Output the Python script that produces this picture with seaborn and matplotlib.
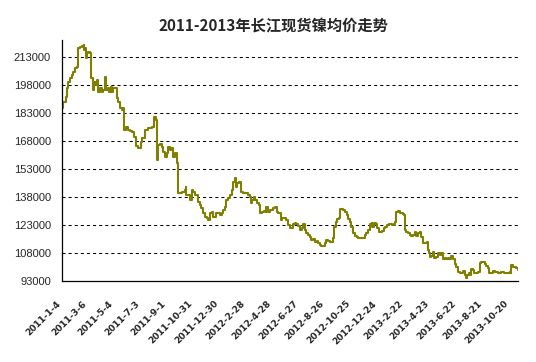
import matplotlib
matplotlib.use("Agg")
import matplotlib.pyplot as plt
import seaborn as sns
import pandas as pd

title = "2011-2013年长江现货镍均价走势"
start_date = "2011-01-04"

# day offsets from 2011-01-04 and Changjiang spot nickel average price (yuan/ton)
days = [0, 2, 7, 8, 11, 14, 18, 22, 26, 30, 33, 36, 37, 41, 45, 49, 51, 52, 55, 57,
        60, 64, 65, 67, 71, 73, 77, 80, 83, 86, 90, 94, 98, 100, 104, 108, 111, 114, 117, 122,
        124, 128, 132, 136, 139, 141, 145, 149, 155, 160, 164, 168, 172, 177, 180, 183, 189, 195, 200, 205,
        210, 213, 215, 217, 219, 223, 227, 230, 234, 238, 242, 245, 249, 253, 257, 261, 264, 268, 272, 276,
        279, 282, 283, 287, 291, 295, 298, 302, 306, 310, 314, 317, 321, 325, 329, 332, 336, 340, 344, 348,
        351, 355, 359, 363, 366, 370, 374, 378, 382, 386, 389, 393, 395, 398, 402, 406, 408, 412, 420, 423,
        427, 429, 432, 436, 440, 444, 448, 450, 451, 455, 459, 463, 465, 469, 473, 476, 480, 484, 488, 491,
        495, 498, 501, 505, 509, 512, 515, 518, 522, 526, 529, 533, 537, 541, 545, 548, 552, 556, 560, 563,
        567, 571, 575, 579, 582, 586, 590, 594, 598, 601, 605, 609, 613, 616, 619, 622, 626, 630, 632, 635,
        639, 643, 647, 650, 654, 658, 662, 666, 670, 673, 681, 684, 688, 692, 696, 700, 704, 706, 709, 713,
        716, 720, 724, 728, 732, 735, 739, 743, 747, 750, 754, 758, 760, 764, 768, 772, 775, 778, 779, 783,
        787, 791, 794, 798, 802, 806, 809, 813, 817, 821, 825, 829, 832, 834, 836, 840, 843, 847, 851, 855,
        859, 863, 866, 870, 874, 878, 881, 885, 889, 893, 897, 900, 904, 908, 912, 916, 918, 921, 925, 927,
        931, 934, 938, 946, 950, 953, 957, 961, 965, 968, 972, 976, 980, 984, 991, 999, 1006, 1014, 1018, 1020,
        1022, 1025, 1029, 1033, 1037]

prices = [185500, 189000, 189000, 191700, 196200, 199800, 201600, 203400, 205100, 206900, 207800, 209900, 217600, 218500, 218900, 219400, 216700, 217600, 212300, 214900,
          215800, 214900, 203400, 201600, 195300, 199800, 198000, 200700, 194400, 196200, 194400, 195300, 202100, 195300, 196200, 194400, 197100, 194400, 196200, 196200,
          190900, 189000, 185500, 184600, 185500, 173900, 175600, 173900, 173500, 173000, 170300, 165300, 164100, 164100, 167600, 169500, 173900, 175100, 175100, 175600,
          180700, 179300, 175600, 157800, 165900, 166200, 165000, 162300, 159600, 161400, 165000, 163000, 164100, 159600, 161400, 156100, 140000, 140000, 140800, 140800,
          141800, 143500, 139100, 139100, 136400, 141800, 140800, 139100, 139100, 135500, 133700, 131900, 129300, 127100, 126600, 125700, 129300, 130100, 127400, 127400,
          129300, 129300, 128400, 129300, 131000, 132800, 136400, 137300, 139100, 141800, 146200, 148000, 143500, 145300, 146200, 144400, 140800, 140300, 140300, 139100,
          138200, 134600, 136400, 137800, 136400, 134600, 133700, 131900, 129300, 130100, 130700, 130100, 132800, 130100, 131000, 131000, 131900, 132800, 130100, 129600,
          129300, 125700, 126600, 126600, 125700, 125700, 123000, 121200, 121200, 123500, 123900, 123500, 122500, 120300, 121200, 123500, 120300, 118600, 117600, 116700,
          115000, 115400, 114100, 114600, 113200, 112300, 111900, 111800, 113200, 115000, 114600, 114100, 114100, 115900, 122100, 124800, 126200, 126600, 131400, 131800,
          131000, 130100, 128400, 126100, 124800, 122100, 118600, 117100, 116400, 115900, 115900, 116200, 117600, 118600, 120300, 123500, 124200, 122100, 123900, 123500,
          121200, 119400, 119400, 120000, 121200, 122100, 123000, 123500, 123500, 123200, 123500, 124800, 130100, 130700, 129600, 129300, 128900, 128400, 120300, 119400,
          118600, 117600, 117100, 117600, 119000, 117100, 118600, 119400, 116700, 113500, 113500, 114100, 109600, 107800, 106000, 106400, 108700, 105200, 106000, 107800,
          106900, 107800, 104600, 105200, 104600, 105200, 104600, 106400, 104600, 102100, 100700, 98000, 97100, 97500, 98400, 96200, 94400, 96200, 97100, 96200,
          99300, 98900, 97500, 97800, 102500, 103200, 103400, 102100, 101000, 99800, 97100, 97500, 98500, 98000, 97500, 97800, 97500, 97500, 97800, 97500,
          101600, 100700, 100400, 99800, 98900]

tick_dates = ["2011-1-4", "2011-3-6", "2011-5-4", "2011-7-3", "2011-9-1", "2011-10-31",
              "2011-12-30", "2012-2-28", "2012-4-28", "2012-6-27", "2012-8-26", "2012-10-25",
              "2012-12-24", "2013-2-22", "2013-4-23", "2013-6-22", "2013-8-21", "2013-10-20"]
y_ticks = [93000, 108000, 123000, 138000, 153000, 168000, 183000, 198000, 213000]

assert len(days) == len(prices)

start = pd.Timestamp(start_date)
df = pd.DataFrame({"date": start + pd.to_timedelta(days, unit="D"), "price": prices})

sns.set_style("white")
plt.rcParams["font.family"] = ["Liberation Sans", "DejaVu Sans"]
plt.rcParams["lines.scale_dashes"] = False

fig = plt.figure(figsize=(5.36, 3.62), dpi=100)
ax = fig.add_axes([62 / 536, 1 - 281 / 362, (518 - 62) / 536, (281 - 40) / 362])

sns.lineplot(data=df, x="date", y="price", ax=ax, color="#808000", linewidth=1.5,
             drawstyle="steps-post", estimator=None)

ax.set_xlim(start, start + pd.Timedelta(days=days[-1]))
ax.set_ylim(93000, 222100)

ax.set_yticks(y_ticks)
ax.set_yticklabels([str(v) for v in y_ticks], fontsize=8)
for v in y_ticks[1:]:
    ax.axhline(v, color="black", linewidth=0.75, linestyle=(0, (2.2, 2.2)), zorder=1)

tick_pos = pd.to_datetime(tick_dates)
ax.set_xticks(tick_pos)
ax.set_xticklabels(tick_dates, rotation=45, ha="right", va="top",
                   fontsize=6.5, fontweight="bold", family="DejaVu Sans")

ax.tick_params(axis="x", direction="in", length=3, width=0.75, color="black", pad=13)
ax.tick_params(axis="y", length=0, pad=8)

for side in ["top", "right"]:
    ax.spines[side].set_visible(False)
for side in ["left", "bottom"]:
    ax.spines[side].set_color("black")
    ax.spines[side].set_linewidth(0.9)

ax.set_xlabel("")
ax.set_ylabel("")
ax.grid(False)

fig.text(273.5 / 536, 1 - 25 / 362, title, ha="center", va="center", fontsize=11,
         fontweight="bold", family=["Noto Sans CJK SC", "DejaVu Sans"])

fig.savefig("out.png", dpi=100)
